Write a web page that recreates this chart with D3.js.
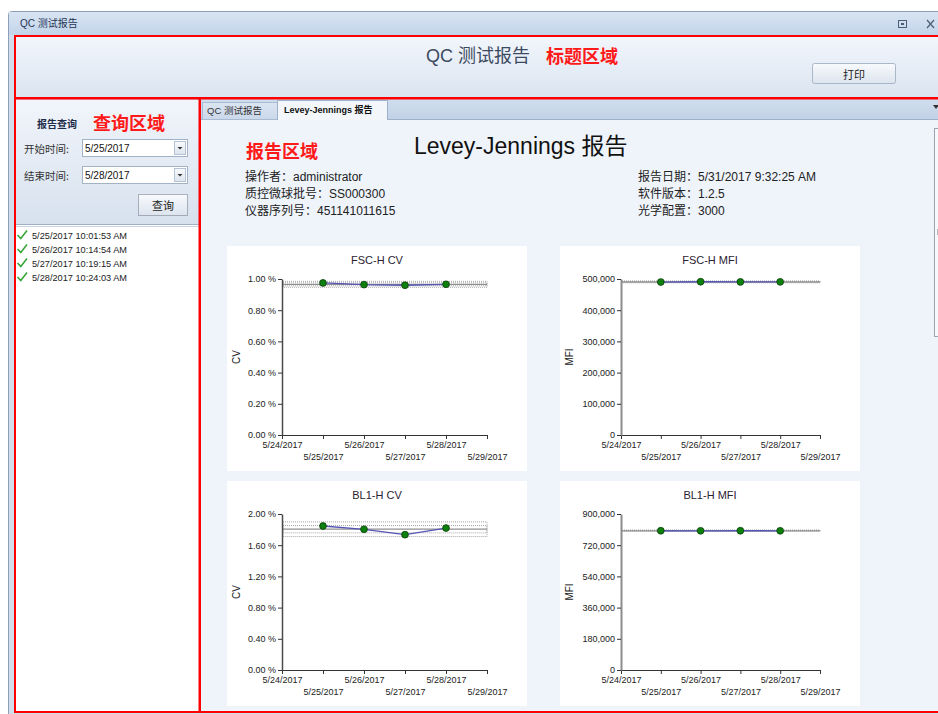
<!DOCTYPE html>
<html><head><meta charset="utf-8">
<script src="https://cdn.jsdelivr.net/npm/d3@7"></script>
<style>
body{margin:0;background:#fff;}
svg{display:block;font-family:"Liberation Sans","Noto Sans CJK SC",sans-serif;}
</style>
</head><body><script>
// ---------------- data ----------------
const tickDates = ["5/24/2017","5/25/2017","5/26/2017","5/27/2017","5/28/2017","5/29/2017"];
const runDates = ["5/25/2017","5/26/2017","5/27/2017","5/28/2017"];
const runTimes = ["5/25/2017 10:01:53 AM","5/26/2017 10:14:54 AM","5/27/2017 10:19:15 AM","5/28/2017 10:24:03 AM"];
const chartTitles = ["FSC-H CV","FSC-H MFI","BL1-H CV","BL1-H MFI"];
const yTitles = ["CV","MFI","CV","MFI"];
const fscCV = [0.975, 0.964, 0.960, 0.966];
const fscMFI = [490300, 491200, 490600, 490800];
const bl1CV = [1.846, 1.804, 1.735, 1.820];
const bl1MFI = [803300, 803100, 803500, 803200];
// control limits: [mean, SD]
const fscCVLimits = [0.966, 0.0095];
const fscMFILimits = [490700, 1500];
const bl1CVLimits = [1.805, 0.047];
const bl1MFILimits = [803300, 2000];
const yMax = [1.0, 500000, 2.0, 900000];
const yStep = [0.2, 100000, 0.4, 180000];
const infoLeft = ["操作者：administrator","质控微球批号：SS000300","仪器序列号：451141011615"];
const infoRight = ["报告日期：5/31/2017 9:32:25 AM","软件版本：1.2.5","光学配置：3000"];
const queryStart = "5/25/2017";
const queryEnd = "5/28/2017";

// ---------------- drawing ----------------
const W = 938, H = 714;
const svg = d3.select("body").append("svg").attr("width", W).attr("height", H);
const defs = svg.append("defs");
function grad(id, stops){
  const g = defs.append("linearGradient").attr("id", id).attr("x1",0).attr("y1",0).attr("x2",0).attr("y2",1);
  stops.forEach(([o,c]) => g.append("stop").attr("offset", o).attr("stop-color", c));
}
grad("gTitle", [[0,"#d8e4f2"],[1,"#c3d4ea"]]);
grad("gHeader", [[0,"#f2f6fc"],[1,"#dae4f0"]]);
grad("gQuery", [[0,"#f1f5fb"],[1,"#d7e1ee"]]);
grad("gBtn", [[0,"#f8fafd"],[1,"#dce4ee"]]);
grad("gTab", [[0,"#d0ddee"],[1,"#c1d1e6"]]);
grad("gTabIn", [[0,"#dbe5f2"],[1,"#cbd8ea"]]);

const CJK = '"Noto Sans CJK SC","Liberation Sans",sans-serif';

function txt(x, y, s, opts = {}){
  return svg.append("text").attr("x", x).attr("y", y).text(s)
    .attr("dominant-baseline", "central")
    .attr("font-size", opts.size || 11)
    .attr("fill", opts.fill || "#222")
    .attr("font-weight", opts.weight || "normal")
    .attr("text-anchor", opts.anchor || "start")
    .attr("font-family", opts.family || null);
}

// window frame
svg.append("rect").attr("x",8.5).attr("y",11.5).attr("width",945).attr("height",720).attr("rx",3)
  .attr("fill","#d3deec").attr("stroke","#8d9fb9");
svg.append("rect").attr("x",9).attr("y",12).attr("width",940).attr("height",23).attr("fill","url(#gTitle)");
txt(20, 23.5, "QC 测试报告", {size:10, fill:"#1f3556"});
// window buttons
svg.append("rect").attr("x",898.5).attr("y",20.5).attr("width",8).attr("height",7).attr("fill","none").attr("stroke","#4d5d75");
svg.append("rect").attr("x",901).attr("y",23).attr("width",3).attr("height",2).attr("fill","#4d5d75");
svg.append("path").attr("d","M927,20 L934,28 M934,20 L927,28").attr("stroke","#4d5d75").attr("stroke-width",1.2);

// header area
svg.append("rect").attr("x",15).attr("y",36).attr("width",930).attr("height",62).attr("fill","url(#gHeader)");
txt(426, 56, "QC 测试报告", {size:18, fill:"#3b4a5e"});
txt(546, 55, "标题区域", {size:18, fill:"#ff1a1a", weight:"bold", family:CJK});
svg.append("rect").attr("x",812.5).attr("y",63.5).attr("width",83).attr("height",20).attr("rx",2)
  .attr("fill","url(#gBtn)").attr("stroke","#a9b7c9");
txt(854, 73.5, "打印", {size:11, fill:"#222", anchor:"middle", family:CJK});

// left panel
svg.append("rect").attr("x",16).attr("y",100).attr("width",183).attr("height",612).attr("fill","#ffffff");
svg.append("rect").attr("x",16).attr("y",100).attr("width",183).attr("height",124).attr("fill","url(#gQuery)");
svg.append("line").attr("x1",16).attr("x2",199).attr("y1",224.5).attr("y2",224.5).attr("stroke","#9fb0c6");
svg.append("line").attr("x1",16).attr("x2",199).attr("y1",226.5).attr("y2",226.5).attr("stroke","#c9d4e2");
txt(37, 123.5, "报告查询", {size:10, fill:"#1d2c48", weight:"bold", family:CJK});
txt(93, 122, "查询区域", {size:18, fill:"#ff1a1a", weight:"bold", family:CJK});

function combo(y, label, value){
  txt(24, y + 9, label, {size:10.5, fill:"#333", family:CJK});
  svg.append("rect").attr("x",82.5).attr("y",y + 0.5).attr("width",105).attr("height",17)
    .attr("fill","#fff").attr("stroke","#a3b3c7");
  svg.append("rect").attr("x",174.5).attr("y",y + 2.5).attr("width",11).attr("height",13)
    .attr("fill","url(#gBtn)").attr("stroke","#b6c3d4");
  svg.append("path").attr("d",`M177.5,${y+8} L182.5,${y+8} L180,${y+10.5} Z`).attr("fill","#333");
  txt(85, y + 9, value, {size:10, fill:"#111"});
}
combo(139, "开始时间:", queryStart);
combo(166, "结束时间:", queryEnd);

svg.append("rect").attr("x",138.5).attr("y",194.5).attr("width",49).attr("height",21)
  .attr("fill","url(#gBtn)").attr("stroke","#6b7380").attr("stroke-dasharray","1,1");
txt(163, 205, "查询", {size:11, fill:"#222", anchor:"middle", family:CJK});

runTimes.forEach((t, i) => {
  const yc = 235.5 + i * 14;
  svg.append("path").attr("d",`M17.5,${yc-0.5} L20.8,${yc+3} L27,${yc-5}`)
    .attr("fill","none").attr("stroke","#3aa63a").attr("stroke-width",1.6);
  txt(32, yc, t, {size:9.2, fill:"#222"});
});

// right area
svg.append("rect").attr("x",201).attr("y",100).attr("width",740).attr("height",612).attr("fill","#eff4fb");
svg.append("rect").attr("x",201).attr("y",100).attr("width",740).attr("height",19).attr("fill","url(#gTab)");
svg.append("line").attr("x1",201).attr("x2",940).attr("y1",119.5).attr("y2",119.5).attr("stroke","#9db1ca");
svg.append("rect").attr("x",202.5).attr("y",102.5).attr("width",75).attr("height",17)
  .attr("fill","url(#gTabIn)").attr("stroke","#a9bbd2");
txt(207, 110, "QC 测试报告", {size:9.5, fill:"#333"});
svg.append("path").attr("d","M277.5,120 L277.5,100.5 L387.5,100.5 L387.5,120").attr("fill","#f3f7fc").attr("stroke","#9db1ca");
txt(284, 109.5, "Levey-Jennings 报告", {size:9, fill:"#111", weight:"bold"});
svg.append("path").attr("d","M933,105 L939,105 L936,109 Z").attr("fill","#333");

txt(246, 150, "报告区域", {size:18, fill:"#ff1a1a", weight:"bold", family:CJK});
txt(414, 146, "Levey-Jennings 报告", {size:23, fill:"#111"});
infoLeft.forEach((s, i) => txt(245, 176.5 + i * 17, s, {size:12, fill:"#222"}));
infoRight.forEach((s, i) => txt(638, 176.5 + i * 17, s, {size:12, fill:"#222"}));

// partial scrollbar at right edge
svg.append("rect").attr("x",934.5).attr("y",128.5).attr("width",10).attr("height",208)
  .attr("fill","#f6f8fb").attr("stroke","#9aa4b2");
svg.append("path").attr("d","M937,230 h3 M937,232 h3 M937,234 h3").attr("stroke","#777");

// ---------------- charts ----------------
const parse = d3.timeParse("%m/%d/%Y");
const charts = [
  {i:0, values:fscCV, limits:fscCVLimits, fmt:v => d3.format(".2f")(v) + " %", bx:227, by:246, offL:55, axisColor:"#4a4a4a", axisW:1.5},
  {i:1, values:fscMFI, limits:fscMFILimits, fmt:d3.format(","), bx:560, by:246, offL:61, axisColor:"#8c8c8c", axisW:2},
  {i:2, values:bl1CV, limits:bl1CVLimits, fmt:v => d3.format(".2f")(v) + " %", bx:227, by:481, offL:55, axisColor:"#4a4a4a", axisW:1.5},
  {i:3, values:bl1MFI, limits:bl1MFILimits, fmt:d3.format(","), bx:560, by:481, offL:61, axisColor:"#8c8c8c", axisW:2}
];

charts.forEach(c => {
  const g = svg.append("g");
  g.append("rect").attr("x", c.bx).attr("y", c.by).attr("width", 300).attr("height", 225).attr("fill", "#fff");
  const x = d3.scaleTime().domain([parse(tickDates[0]), parse(tickDates[tickDates.length - 1])])
    .range([c.bx + c.offL, c.bx + 260]);
  const y = d3.scaleLinear().domain([0, yMax[c.i]]).range([c.by + 189, c.by + 33]);
  const x0 = x.range()[0], x1 = x.range()[1];

  // title
  g.append("text").attr("x", c.bx + 150).attr("y", c.by + 14).attr("text-anchor","middle")
    .attr("dominant-baseline","central").attr("font-size", 11).attr("fill","#2a2230").text(chartTitles[c.i]);
  // y title
  g.append("text").attr("transform", `translate(${c.bx + 9},${(y.range()[0] + y.range()[1]) / 2}) rotate(-90)`)
    .attr("text-anchor","middle").attr("dominant-baseline","central").attr("font-size", 10).attr("fill","#222")
    .text(yTitles[c.i]);

  // control band
  const [m, s] = c.limits;
  [2, 1].forEach(k => {
    g.append("rect").attr("x", x0 + 1).attr("y", y(m + k * s)).attr("width", x1 - x0 - 1)
      .attr("height", Math.max(0.01, y(m - k * s) - y(m + k * s)))
      .attr("fill","none").attr("stroke","#a6a6a6").attr("stroke-width",1).attr("stroke-dasharray","1,1");
  });
  g.append("line").attr("x1", x0).attr("x2", x1).attr("y1", y(m)).attr("y2", y(m))
    .attr("stroke","#8f8f8f").attr("stroke-width",1.2);

  // series
  const pts = c.values.map((v, j) => [x(parse(runDates[j])), y(v)]);
  g.append("path").attr("d", d3.line()(pts)).attr("fill","none").attr("stroke","#5555b5").attr("stroke-width",1.3);
  g.selectAll("circle.pt").data(pts).join("circle").attr("class","pt")
    .attr("cx", d => d[0]).attr("cy", d => d[1]).attr("r", 3.4)
    .attr("fill","#0c7f0c").attr("stroke","#0b3d0b").attr("stroke-width",0.8);

  // axes
  const xa = d3.axisBottom(x).tickValues(tickDates.map(parse)).tickFormat((d, j) => tickDates[j])
    .tickSize(4).tickSizeOuter(0);
  const gx = g.append("g").attr("transform", `translate(0,${y(0)})`).call(xa);
  gx.attr("font-family", null).attr("font-size", 9);
  gx.select(".domain").attr("stroke","#333");
  gx.selectAll(".tick line").attr("stroke","#333");
  gx.selectAll(".tick text").attr("fill","#222").attr("dy", (d, j) => j % 2 ? "2.05em" : "0.71em");

  const ya = d3.axisLeft(y).tickValues(d3.range(0, yMax[c.i] + yStep[c.i] / 2, yStep[c.i]))
    .tickFormat(c.fmt).tickSize(4).tickSizeOuter(0);
  const gy = g.append("g").attr("transform", `translate(${x0},0)`).call(ya);
  gy.attr("font-family", null).attr("font-size", 9);
  gy.select(".domain").attr("stroke", c.axisColor).attr("stroke-width", c.axisW);
  gy.selectAll(".tick line").attr("stroke","#333");
  gy.selectAll(".tick text").attr("fill","#222").attr("x", -6);
});

// red region outlines
const red = "#ff0000";
svg.append("rect").attr("x",15).attr("y",36).attr("width",935).attr("height",62).attr("fill","none").attr("stroke",red).attr("stroke-width",2);
svg.append("rect").attr("x",15).attr("y",98.5).attr("width",184.5).attr("height",613.5).attr("fill","none").attr("stroke",red).attr("stroke-width",2);
svg.append("rect").attr("x",200).attr("y",98.5).attr("width",750).attr("height",613.5).attr("fill","none").attr("stroke",red).attr("stroke-width",2);
</script></body></html>
